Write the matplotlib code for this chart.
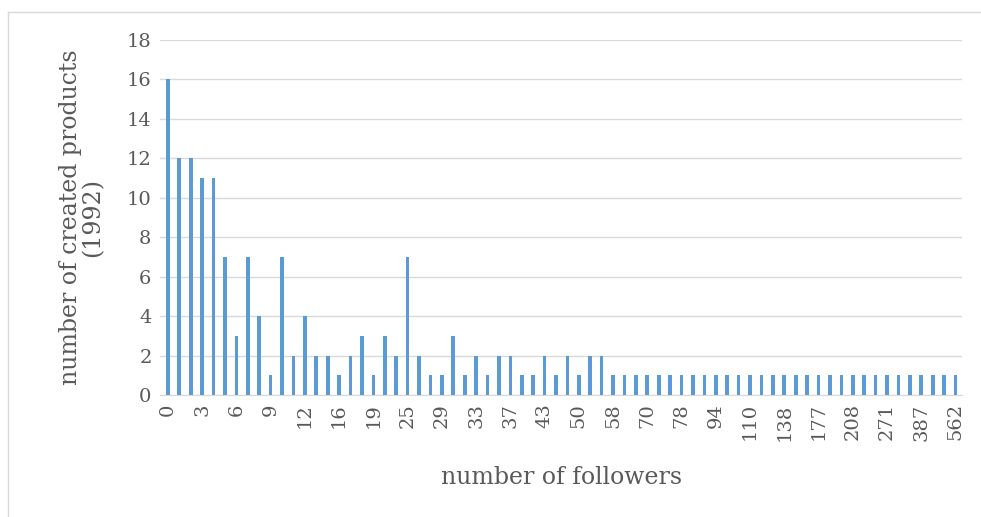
import numpy as np
import matplotlib.pyplot as plt
from matplotlib.lines import Line2D

# number of created products per follower-count category (70 categories)
values = [16, 12, 12, 11, 11, 7, 3, 7, 4, 1,
          7, 2, 4, 2, 2, 1, 2, 3, 1, 3,
          2, 7, 2, 1, 1, 3, 1, 2, 1, 2,
          2, 1, 1, 2, 1, 2, 1, 2, 2, 1,
          1, 1, 1, 1, 1, 1, 1, 1, 1, 1,
          1, 1, 1, 1, 1, 1, 1, 1, 1, 1,
          1, 1, 1, 1, 1, 1, 1, 1, 1, 1]
# only every third category is labelled on the axis
tick_labels = ['0', '3', '6', '9', '12', '16', '19', '25', '29', '33', '37', '43',
               '50', '58', '70', '78', '94', '110', '138', '177', '208', '271',
               '387', '562']

text_col = '#595959'
grid_col = '#D9D9D9'
bar_col = '#5B9BD5'
font = 'DejaVu Serif'

fig = plt.figure(figsize=(9.81, 5.17), dpi=100)
ax = fig.add_axes([0.163, 0.236, 0.818, 0.687])

x = np.arange(len(values))
ax.bar(x, values, width=0.32, color=bar_col, zorder=3)

ax.set_ylim(0, 18)
ax.set_yticks(range(0, 19, 2))
ax.set_xlim(-0.7, 69.6)
ax.set_xticks(x[::3])
ax.set_xticklabels(tick_labels, rotation=90)

ax.grid(axis='y', color=grid_col, linewidth=1, zorder=0)
for s in ['top', 'right', 'left']:
    ax.spines[s].set_visible(False)
ax.spines['bottom'].set_color(grid_col)
ax.tick_params(length=0, labelcolor=text_col, labelsize=14)
ax.tick_params(axis='y', pad=6)
ax.tick_params(axis='x', pad=6)
for lab in ax.get_xticklabels() + ax.get_yticklabels():
    lab.set_family(font)

ax.set_xlabel('number of followers', fontsize=17, color=text_col, family=font, labelpad=18)
ax.set_ylabel('number of created products\n(1992)', fontsize=17, color=text_col,
              family=font, labelpad=16, linespacing=1.0)

# light frame on the left and top of the image
fig.add_artist(Line2D([8 / 981, 8 / 981], [0, 1 - 12 / 517], color=grid_col, lw=1))
fig.add_artist(Line2D([8 / 981, 1], [1 - 12 / 517, 1 - 12 / 517], color=grid_col, lw=1))

fig.savefig('out.png', dpi=100)
